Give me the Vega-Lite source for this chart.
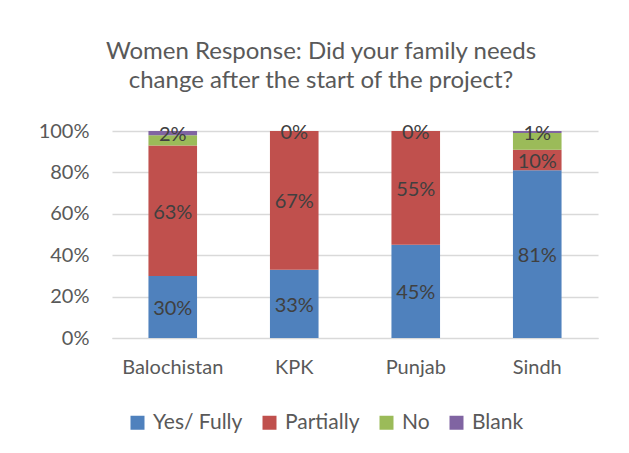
{
  "$schema": "https://vega.github.io/schema/vega-lite/v6.json",
  "autosize": {"type": "none"},
  "width": 486,
  "height": 207,
  "padding": {"left": 112, "top": 131, "right": 31, "bottom": 115},
  "background": "white",
  "config": {
    "font": "Lato",
    "view": {"stroke": null},
    "axis": {"labelFont": "Lato", "labelColor": "#595959", "labelFontSize": 20, "titleFont": "Lato"},
    "legend": {"labelFont": "Lato"}
  },
  "title": {
    "text": ["Women Response: Did your family needs", "change after the start of the project?"],
    "font": "Lato",
    "fontSize": 24,
    "fontWeight": "normal",
    "color": "#595959",
    "anchor": "middle",
    "dx": -34,
    "offset": 28,
    "lineHeight": 29
  },
  "data": {
    "values": [
      {"region": "Balochistan", "resp": "Yes/ Fully", "order": 1, "value": 0.30},
      {"region": "Balochistan", "resp": "Partially", "order": 2, "value": 0.63},
      {"region": "Balochistan", "resp": "No", "order": 3, "value": 0.05},
      {"region": "Balochistan", "resp": "Blank", "order": 4, "value": 0.02},
      {"region": "KPK", "resp": "Yes/ Fully", "order": 1, "value": 0.33},
      {"region": "KPK", "resp": "Partially", "order": 2, "value": 0.67},
      {"region": "KPK", "resp": "No", "order": 3, "value": 0.0},
      {"region": "KPK", "resp": "Blank", "order": 4, "value": 0.0},
      {"region": "Punjab", "resp": "Yes/ Fully", "order": 1, "value": 0.45},
      {"region": "Punjab", "resp": "Partially", "order": 2, "value": 0.55},
      {"region": "Punjab", "resp": "No", "order": 3, "value": 0.0},
      {"region": "Punjab", "resp": "Blank", "order": 4, "value": 0.0},
      {"region": "Sindh", "resp": "Yes/ Fully", "order": 1, "value": 0.81},
      {"region": "Sindh", "resp": "Partially", "order": 2, "value": 0.10},
      {"region": "Sindh", "resp": "No", "order": 3, "value": 0.08},
      {"region": "Sindh", "resp": "Blank", "order": 4, "value": 0.01}
    ]
  },
  "transform": [
    {"stack": "value", "groupby": ["region"], "sort": [{"field": "order"}], "as": ["y0", "y1"]},
    {"calculate": "(datum.y0 + datum.y1) / 2", "as": "mid"}
  ],
  "encoding": {
    "x": {
      "field": "region", "type": "nominal", "title": null,
      "sort": ["Balochistan", "KPK", "Punjab", "Sindh"],
      "scale": {"paddingInner": 0.6, "paddingOuter": 0.3},
      "axis": {"labelAngle": 0, "ticks": false, "domain": true, "domainColor": "#d9d9d9", "labelPadding": 19}
    }
  },
  "layer": [
    {
      "mark": {"type": "bar"},
      "encoding": {
        "y": {
          "field": "y0", "type": "quantitative", "title": null,
          "scale": {"domain": [0, 1], "nice": false},
          "axis": {"values": [0, 0.2, 0.4, 0.6, 0.8, 1], "format": ".0%", "ticks": false, "domain": false, "gridColor": "#d9d9d9", "gridWidth": 1.3, "labelPadding": 23, "labelFontSize": 20}
        },
        "y2": {"field": "y1"},
        "color": {
          "field": "resp", "type": "nominal",
          "sort": ["Yes/ Fully", "Partially", "No", "Blank"],
          "scale": {"domain": ["Yes/ Fully", "Partially", "No", "Blank"], "range": ["#4F81BD", "#C0504D", "#9BBB59", "#8064A2"]},
          "legend": {
            "title": null, "orient": "none", "direction": "horizontal",
            "legendX": 15, "legendY": 281,
            "symbolType": "square", "symbolSize": 196, "symbolStrokeWidth": 0,
            "labelFontSize": 21, "labelColor": "#595959", "labelOffset": 5,
            "columnPadding": 16
          }
        }
      }
    },
    {
      "transform": [{"filter": "datum.resp != 'No'"}],
      "mark": {"type": "text", "fontSize": 20, "color": "#404040", "baseline": "middle", "dy": 2},
      "encoding": {
        "y": {"field": "mid", "type": "quantitative"},
        "text": {"field": "value", "type": "quantitative", "format": ".0%"}
      }
    }
  ]
}
